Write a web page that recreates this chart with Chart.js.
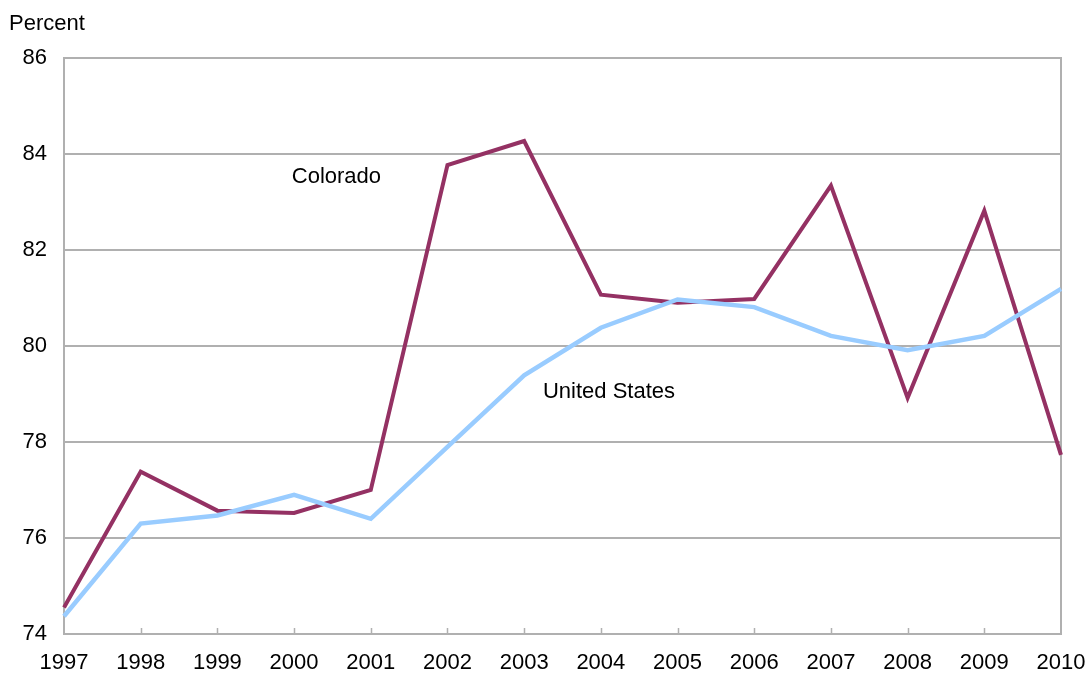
<!DOCTYPE html>
<html>
<head>
<meta charset="utf-8">
<script src="https://cdn.jsdelivr.net/npm/chart.js@4"></script>
<style>
  html, body { margin: 0; padding: 0; background: #fff; }
  #wrap { width: 1088px; height: 673px; position: relative; }
</style>
</head>
<body>
<div id="wrap"><canvas id="chart"></canvas></div>
<script>
// Data
const years = ['1997', '1998', '1999', '2000', '2001', '2002', '2003', '2004', '2005', '2006', '2007', '2008', '2009', '2010'];
const colorado = [74.55, 77.38, 76.57, 76.52, 77.0, 83.77, 84.27, 81.07, 80.9, 80.98, 83.34, 78.92, 82.82, 77.73];
const unitedStates = [74.37, 76.3, 76.47, 76.9, 76.4, 77.9, 79.39, 80.38, 80.97, 80.81, 80.21, 79.91, 80.21, 81.19];
const yTicks = [74, 76, 78, 80, 82, 84, 86];

const FONT = '"Liberation Sans", Arial, sans-serif';
const gridGray = '#b0b0b0';

// Frame, inward x ticks, unit label and series names
const annotations = {
    id: 'annotations',
    beforeDatasetsDraw(chart) {
        const { ctx, chartArea: a } = chart;
        const x = chart.scales.x;
        ctx.save();
        ctx.strokeStyle = gridGray;
        ctx.lineWidth = 2;
        ctx.strokeRect(a.left, a.top, a.right - a.left, a.bottom - a.top);
        ctx.lineWidth = 1.5;
        ctx.beginPath();
        for (let i = 1; i < years.length - 1; i++) {
            const px = Math.round(x.getPixelForTick(i)) + 0.5;
            ctx.moveTo(px, a.bottom);
            ctx.lineTo(px, a.bottom - 6);
        }
        ctx.stroke();
        ctx.restore();
    },
    afterDraw(chart) {
        const { ctx } = chart;
        const x = chart.scales.x, y = chart.scales.y;
        ctx.save();
        ctx.fillStyle = '#000';
        ctx.font = '22px ' + FONT;
        ctx.textBaseline = 'middle';
        ctx.textAlign = 'left';
        ctx.fillText('Percent', 9, 24);
        ctx.fillText('Colorado', x.getPixelForValue(2.97), y.getPixelForValue(83.53));
        ctx.fillText('United States', x.getPixelForValue(6.245), y.getPixelForValue(79.05));
        ctx.restore();
    }
};

new Chart(document.getElementById('chart'), {
    type: 'line',
    data: {
        labels: years,
        datasets: [
            {
                label: 'United States',
                data: unitedStates,
                borderColor: '#99ccff',
                borderWidth: 4.5,
                pointRadius: 0,
                tension: 0
            },
            {
                label: 'Colorado',
                data: colorado,
                borderColor: '#943163',
                borderWidth: 4,
                pointRadius: 0,
                tension: 0
            }
        ]
    },
    options: {
        responsive: true,
        maintainAspectRatio: false,
        animation: false,
        layout: { padding: { top: 58, right: 27, left: 0, bottom: 0 } },
        plugins: {
            legend: { display: false },
            tooltip: { enabled: false }
        },
        scales: {
            x: {
                offset: false,
                grid: { display: false, drawTicks: false },
                border: { display: false },
                ticks: {
                    color: '#000',
                    font: { family: FONT, size: 22 },
                    padding: 16,
                    maxRotation: 0,
                    autoSkip: false
                },
                afterFit(scale) {
                    scale.height = 39;
                    // let the last year label hang past the frame as in the original
                    scale.paddingLeft = 0;
                    scale.paddingRight = 0;
                }
            },
            y: {
                min: 74,
                max: 86,
                afterBuildTicks(scale) { scale.ticks = yTicks.map(v => ({ value: v })); },
                grid: { color: gridGray, lineWidth: 2, drawTicks: false },
                border: { display: false },
                ticks: {
                    color: '#000',
                    font: { family: FONT, size: 22 },
                    padding: 17
                },
                afterFit(scale) { scale.width = 64; }
            }
        }
    },
    plugins: [annotations]
});
</script>
</body>
</html>
